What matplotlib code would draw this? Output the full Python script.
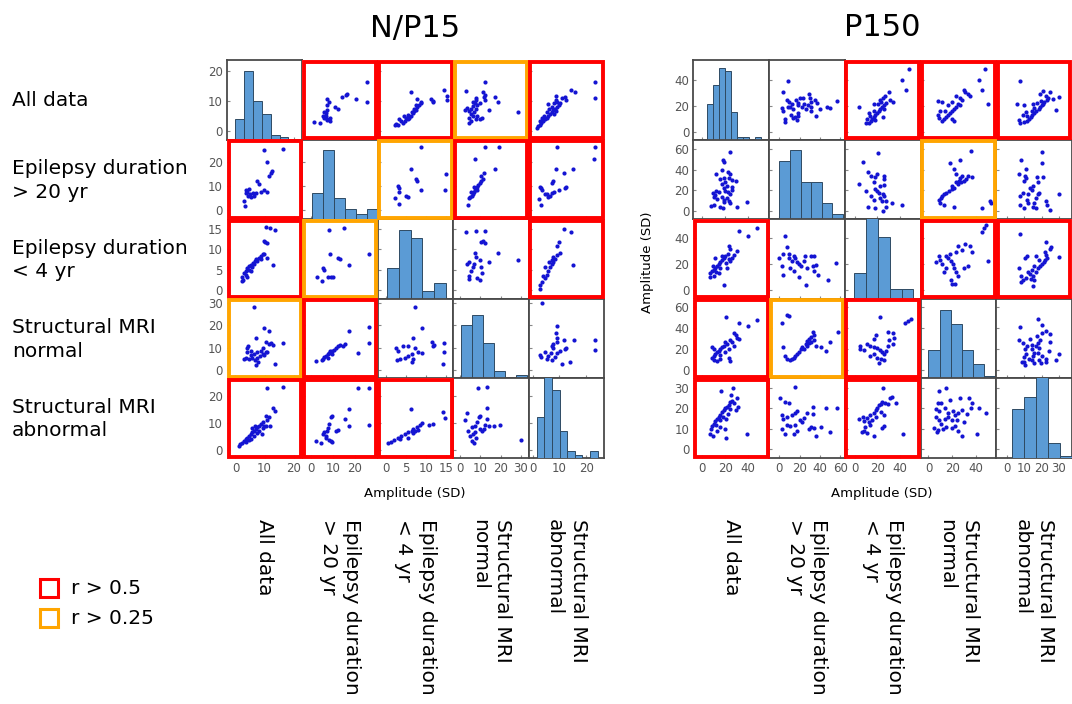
import numpy as np
import matplotlib
matplotlib.use("Agg")
import matplotlib.pyplot as plt
from matplotlib.patches import Rectangle

# ---------------- data ----------------
variables = ["All data", "Epilepsy duration\n> 20 yr", "Epilepsy duration\n< 4 yr",
             "Structural MRI\nnormal", "Structural MRI\nabnormal"]
legend_labels = ["r > 0.5", "r > 0.25"]
titles = ["N/P15", "P150"]

# significance code per panel: 0 none, 1 r>0.25, 2 r>0.5
np15_sig = [[0, 2, 2, 1, 2],
            [2, 0, 1, 2, 2],
            [2, 1, 0, 0, 2],
            [1, 2, 0, 0, 0],
            [2, 2, 2, 0, 0]]
p150_sig = [[0, 0, 2, 2, 2],
            [0, 0, 0, 1, 0],
            [2, 0, 0, 2, 2],
            [2, 1, 2, 0, 0],
            [2, 0, 2, 0, 0]]

np15_ticks = [[0, 10, 20], [0, 10, 20], [0, 5, 10, 15], [0, 10, 20, 30], [0, 10, 20]]
p150_ticks = [[0, 20, 40], [0, 20, 40, 60], [0, 20, 40], [0, 20, 40, 60], [0, 10, 20, 30]]
p150_xticks = [[0, 20, 40], [0, 20, 40, 60], [0, 20, 40], [0, 20, 40], [0, 10, 20, 30]]

# histograms (bin edges, counts)
np15_h0_edges = [0.0, 3.03, 6.07, 9.1, 12.13, 15.17, 18.2]
np15_h0_counts = [9, 30, 17, 11, 2, 1]
np15_h1_edges = [0.5, 5.47, 10.43, 15.4, 20.37, 25.33, 30.3]
np15_h1_counts = [5, 13, 4, 2, 1, 2]
np15_h2_edges = [0.25, 3.2, 6.15, 9.1, 12.05, 15.0]
np15_h2_counts = [4, 9, 8, 1, 2]
np15_h3_edges = [0.75, 6.1, 11.45, 16.8, 22.15, 27.5, 32.8]
np15_h3_counts = [15, 18, 10, 2, 0, 1]
np15_h4_edges = [1.6, 4.44, 7.28, 10.11, 12.95, 15.79, 18.63, 21.46, 24.3]
np15_h4_counts = [12, 24, 20, 8, 2, 1, 0, 2]

p150_h0_edges = [4.0, 9.22, 14.44, 19.67, 24.89, 30.11, 35.33, 40.56, 45.78, 51.0]
p150_h0_counts = [13, 20, 26, 25, 10, 1, 1, 0, 1]
p150_h1_edges = [0.0, 10.42, 20.83, 31.25, 41.67, 52.08, 62.5]
p150_h1_counts = [11, 13, 7, 7, 3, 1]
p150_h2_edges = [-0.6, 10.02, 20.64, 31.26, 41.88, 52.5]
p150_h2_counts = [5, 17, 12, 2, 2]
p150_h3_edges = [0.0, 9.33, 18.67, 28.0, 37.33, 46.67, 56.0]
p150_h3_counts = [10, 24, 19, 10, 5, 1]
p150_h4_edges = [2.6, 9.7, 16.8, 23.9, 31.0, 38.1]
p150_h4_counts = [20, 25, 34, 6, 1]

# scatter pairs (row i, col j), i > j : x = variable j, y = variable i
np15_10_x = [9.9, 16.5, 10.8, 12.5, 12.2, 11.4, 7.5, 8.1, 4.6, 3.5, 4.1, 5.0, 6.0, 7.2, 8.7, 9.9, 10.7, 2.9, 3.3, 5.3, 6.5, 4.4, 3.7]
np15_10_y = [25.2, 25.5, 20.3, 16.5, 15.7, 14.3, 12.1, 10.9, 8.9, 8.5, 7.5, 6.8, 7.0, 7.2, 7.5, 8.4, 7.5, 4.0, 1.6, 5.4, 6.1, 6.1, 7.2]
np15_20_x = [10.5, 11.8, 13.7, 9.9, 10.2, 10.7, 9.3, 9.9, 8.7, 8.1, 7.2, 6.7, 6.0, 5.2, 4.6, 4.1, 3.5, 2.9, 2.3, 2.6, 2.1, 3.5, 4.6, 5.6, 6.4, 7.5, 13.0, 10.7, 8.7, 5.2, 4.1]
np15_20_y = [15.4, 15.25, 14.6, 11.9, 11.7, 11.4, 8.9, 8.75, 8.3, 7.9, 7.5, 7.1, 6.7, 6.25, 5.8, 5.4, 4.75, 4.2, 3.1, 2.5, 2.25, 3.75, 5.0, 5.6, 6.4, 7.1, 6.25, 7.75, 7.5, 4.6, 3.3]
np15_30_x = [6.4, 9.9, 11.6, 7.0, 4.4, 4.1, 10.5, 11.4, 12.2, 13.0, 9.3, 8.7, 7.5, 6.4, 5.2, 3.5, 2.9, 4.6, 5.8, 7.5, 6.7, 7.9, 7.2, 13.6, 10.5, 9.3, 4.1, 5.2, 16.5, 9.9, 8.4, 11.0]
np15_30_y = [28.4, 18.75, 17.5, 14.4, 10.9, 9.7, 12.5, 11.7, 12.2, 11.25, 9.7, 8.6, 7.8, 7.0, 6.6, 5.5, 4.7, 4.7, 5.5, 5.5, 4.4, 3.4, 2.3, 2.8, 8.1, 7.3, 7.8, 8.6, 12.2, 6.6, 6.25, 7.8]
np15_40_x = [11.0, 16.5, 13.0, 13.7, 10.5, 11.4, 11.8, 11.0, 9.3, 8.7, 8.1, 7.5, 7.0, 6.4, 5.8, 5.2, 4.6, 4.1, 3.5, 2.9, 2.3, 1.7, 1.2, 8.1, 9.3, 6.4, 5.2, 7.5, 9.9, 4.6, 3.5, 6.7, 5.8, 9.1, 10.5]
np15_40_y = [23.2, 23.5, 15.7, 14.5, 12.6, 12.3, 8.8, 11.0, 10.3, 9.7, 9.0, 8.4, 7.7, 7.1, 6.5, 5.8, 5.2, 4.5, 3.9, 3.2, 2.6, 1.9, 1.5, 7.1, 8.0, 5.2, 4.1, 6.2, 9.0, 3.6, 2.8, 8.8, 8.0, 5.8, 8.8]
np15_21_x = [8.3, 15.2, 8.6, 12.1, 13.2, 17.1, 26.5, 5.3, 6.1, 2.6, 5.0, 7.6, 9.1, 10.2]
np15_21_y = [14.75, 15.2, 8.9, 7.75, 7.5, 6.25, 8.9, 5.4, 5.0, 3.3, 2.3, 3.3, 3.2, 3.1]
np15_31_x = [26.2, 26.5, 21.5, 17.4, 13.2, 12.1, 11.4, 10.6, 9.8, 9.1, 8.3, 7.6, 6.8, 6.1, 5.3, 2.3, 5.0, 7.6, 9.8, 14.4, 15.6, 8.6]
np15_31_y = [19.1, 12.2, 7.5, 17.5, 11.25, 10.6, 9.7, 9.1, 8.6, 8.1, 7.5, 7.0, 6.25, 5.8, 5.0, 3.9, 4.4, 5.5, 7.0, 10.6, 11.7, 8.6]
np15_41_x = [21.5, 26.5, 17.4, 15.5, 26.2, 17.4, 9.1, 9.8, 8.3, 12.1, 11.4, 7.6, 7.1, 6.1, 5.3, 6.8, 8.3, 9.8, 2.3, 4.5, 6.8, 9.1]
np15_41_y = [23.0, 23.2, 15.2, 11.6, 9.3, 8.8, 12.3, 12.6, 9.7, 7.5, 7.1, 8.0, 7.1, 6.5, 5.8, 5.2, 3.6, 2.8, 3.2, 2.3, 4.5, 3.2]
np15_32_x = [7.3, 9.0, 6.8, 14.5, 11.5, 12.0, 5.6, 4.3, 2.6, 3.0, 7.3, 8.1, 9.0, 6.4, 5.6, 4.7, 3.4, 6.8, 2.8, 6.4, 14.5, 14.3, 11.7]
np15_32_y = [28.4, 18.75, 14.4, 12.2, 12.5, 11.25, 10.6, 10.9, 9.7, 8.6, 9.7, 7.8, 7.5, 7.0, 6.25, 5.5, 4.7, 4.7, 4.4, 3.4, 8.1, 2.8, 10.6]
np15_42_x = [6.2, 14.3, 14.8, 8.5, 9.0, 7.7, 6.8, 6.4, 5.6, 4.7, 3.8, 3.0, 2.1, 1.3, 0.4, 3.4, 5.6, 7.3, 10.7, 11.7, 8.1, 6.8]
np15_42_y = [15.2, 14.2, 11.9, 9.3, 10.1, 8.4, 7.7, 7.1, 6.5, 5.8, 5.2, 4.5, 3.6, 2.8, 2.6, 3.9, 4.5, 7.1, 9.3, 9.7, 7.5, 6.2]
np15_43_x = [8.8, 13.3, 3.3, 13.3, 13.3, 10.0, 9.2, 8.3, 7.5, 5.8, 4.2, 5.0, 5.8, 6.7, 10.8, 11.7, 14.2, 16.7, 19.7, 12.5, 10.0, 7.5, 2.5, 30.0, 6.3, 8.0]
np15_43_y = [23.2, 23.5, 13.9, 15.5, 11.6, 12.6, 12.3, 10.3, 9.0, 8.4, 7.1, 5.2, 3.2, 2.6, 7.1, 7.7, 9.0, 8.8, 9.3, 9.3, 7.7, 6.7, 11.0, 3.6, 5.8, 4.5]

p150_10_x = [24.1, 18.2, 18.8, 17.4, 12.4, 22.4, 24.7, 18.8, 15.9, 23.2, 26.2, 29.1, 20.3, 17.4, 19.4, 21.8, 26.2, 12.4, 14.4, 9.4, 11.5, 22.4, 24.7, 26.2, 10.6, 12.9, 17.4, 18.8, 21.8, 23.2, 19.4, 24.7, 10.0, 7.6, 15.9, 18.2, 30.6, 39.4, 20.3]
p150_10_y = [57.1, 49.5, 47.2, 39.6, 35.6, 37.3, 35.3, 31.4, 30.7, 31.4, 29.7, 28.7, 28.1, 26.4, 22.1, 24.1, 23.1, 18.8, 18.2, 17.5, 15.5, 18.2, 16.5, 19.8, 13.2, 11.6, 13.2, 10.9, 12.2, 9.2, 8.3, 7.6, 5.6, 5.0, 3.3, 2.3, 3.3, 8.3, 18.8]
p150_20_x = [48.2, 40.0, 32.1, 23.2, 24.7, 22.4, 20.3, 18.8, 17.4, 15.9, 14.4, 12.9, 11.5, 10.0, 8.5, 7.1, 10.0, 18.8, 26.2, 27.6, 30.6, 23.2, 21.2, 15.9, 12.4, 7.1, 21.8, 17.4, 11.5, 14.4, 24.7, 9.4]
p150_20_y = [48.3, 42.1, 45.6, 34.1, 31.5, 28.0, 26.1, 24.3, 22.7, 21.6, 20.0, 18.1, 16.8, 15.5, 14.1, 12.8, 10.9, 3.5, 24.8, 26.9, 30.1, 23.5, 20.8, 16.8, 13.6, 10.1, 16.8, 26.1, 24.8, 12.8, 22.1, 18.1]
p150_30_x = [21.2, 32.1, 48.2, 40.0, 27.6, 29.1, 30.6, 24.7, 26.2, 21.8, 18.8, 17.4, 15.9, 14.4, 12.9, 11.5, 10.0, 8.5, 10.6, 15.9, 20.3, 23.2, 27.6, 8.5, 10.0, 23.2, 24.1, 12.9, 15.9, 32.1, 20.3]
p150_30_y = [50.2, 44.6, 47.2, 42.2, 34.7, 33.0, 30.4, 28.1, 26.4, 24.8, 23.1, 21.5, 19.8, 18.2, 16.5, 14.9, 13.2, 11.6, 9.2, 13.9, 16.5, 19.8, 23.1, 21.5, 19.8, 11.6, 8.3, 8.3, 9.9, 29.7, 26.4]
p150_40_x = [16.5, 27.1, 25.3, 30.6, 31.5, 27.6, 26.2, 24.7, 23.2, 21.8, 20.3, 18.8, 17.4, 15.9, 14.4, 12.9, 11.5, 10.0, 8.5, 7.6, 7.1, 9.4, 12.9, 20.3, 21.2, 21.2, 22.4, 24.1, 18.2, 15.9, 12.4, 39.4, 29.1, 15.3]
p150_40_y = [28.3, 30.0, 26.7, 25.0, 20.8, 22.5, 23.7, 23.0, 21.7, 20.8, 20.0, 19.2, 18.3, 17.0, 15.8, 14.7, 13.7, 12.5, 11.3, 10.0, 7.5, 6.7, 9.2, 10.0, 5.8, 15.0, 17.5, 19.7, 15.8, 14.2, 11.7, 7.5, 19.2, 10.8]
p150_21_x = [5.7, 7.4, 4.0, 0.0, 2.4, 4.0, 9.1, 12.5, 14.1, 15.8, 17.5, 19.2, 20.9, 24.2, 27.6, 31.0, 34.3, 32.7, 34.3, 36.0, 37.7, 19.2, 25.9, 47.8, 56.2, 10.8, 14.8, 9.1, 24.9]
p150_21_y = [42.1, 33.3, 27.5, 24.8, 18.1, 11.5, 24.3, 22.1, 26.1, 24.8, 21.6, 20.0, 18.1, 22.1, 16.8, 26.1, 26.1, 18.1, 14.1, 19.5, 11.5, 10.1, 3.5, 7.5, 20.8, 16.8, 14.1, 27.5, 26.1]
p150_31_x = [7.4, 9.1, 2.4, 4.0, 5.7, 7.4, 10.8, 12.5, 14.1, 15.8, 17.5, 19.2, 20.9, 22.6, 25.9, 27.6, 29.3, 31.0, 32.7, 31.6, 34.3, 36.0, 41.1, 46.1, 49.5, 57.9, 34.3, 27.6, 24.2, 29.3]
p150_31_y = [52.1, 51.2, 44.6, 21.5, 13.2, 9.9, 9.2, 10.6, 11.6, 13.2, 14.9, 17.2, 19.8, 21.5, 24.8, 27.1, 29.7, 31.4, 36.3, 26.4, 28.1, 23.1, 21.5, 18.2, 26.4, 35.6, 33.0, 23.1, 19.8, 25.7]
p150_41_x = [15.8, 0.7, 5.7, 9.1, 2.4, 4.0, 7.4, 2.4, 5.7, 14.1, 17.5, 12.5, 15.8, 17.5, 20.2, 22.6, 24.2, 27.6, 32.7, 32.7, 31.6, 29.3, 34.3, 36.0, 41.1, 46.1, 49.5, 57.2, 10.8, 15.8, 7.4]
p150_41_y = [30.3, 25.0, 23.0, 22.5, 17.0, 15.0, 12.0, 10.0, 7.5, 7.5, 9.2, 16.7, 18.0, 18.7, 14.2, 13.3, 15.3, 18.0, 20.8, 17.5, 10.8, 10.0, 10.3, 6.7, 10.8, 20.0, 8.3, 20.3, 11.3, 12.0, 15.8]
p150_32_x = [22.5, 44.6, 47.7, 50.2, 29.2, 33.8, 35.4, 30.8, 18.5, 16.9, 10.8, 13.8, 16.9, 20.0, 22.5, 24.6, 26.2, 27.7, 16.9, 13.8, 20.0, 23.1, 26.2, 21.5, 4.6, 7.7, 4.6, 29.2, 33.8]
p150_32_y = [50.2, 44.6, 46.9, 48.5, 36.3, 34.7, 30.4, 28.1, 33.0, 29.7, 24.8, 23.1, 21.5, 20.5, 19.1, 16.5, 14.9, 18.2, 14.9, 13.2, 11.6, 9.9, 9.2, 6.6, 19.8, 19.1, 22.4, 23.1, 24.8]
p150_42_x = [25.5, 31.7, 32.9, 3.1, 7.1, 8.3, 10.8, 13.8, 16.9, 18.5, 20.0, 21.5, 23.1, 24.6, 26.8, 29.2, 23.1, 26.2, 18.5, 15.4, 12.3, 13.8, 9.2, 7.7, 10.8, 16.9, 24.6, 26.2, 43.1, 36.9, 6.2]
p150_42_y = [30.0, 25.0, 25.8, 15.0, 15.8, 13.7, 15.3, 16.7, 18.0, 19.2, 20.3, 21.7, 22.0, 23.0, 22.5, 22.0, 18.3, 17.0, 15.8, 14.2, 13.3, 12.0, 10.8, 9.2, 8.0, 6.7, 10.3, 11.3, 7.5, 22.5, 8.3]
p150_43_x = [9.2, 15.0, 17.9, 26.5, 33.7, 36.6, 42.4, 48.1, 7.8, 10.7, 6.3, 9.2, 13.5, 16.4, 20.7, 22.2, 25.1, 28.0, 32.3, 35.2, 6.3, 9.2, 13.5, 16.4, 19.3, 23.6, 29.4, 4.9, 7.8, 12.1, 15.0, 19.3, 22.2, 25.1, 28.0, 40.9, 7.2, 10.7]
p150_43_y = [28.7, 30.0, 24.2, 25.0, 25.0, 22.5, 20.3, 18.0, 22.5, 22.8, 19.7, 18.7, 20.0, 18.0, 18.7, 17.0, 18.0, 19.2, 17.5, 20.0, 15.8, 14.2, 15.0, 15.8, 14.2, 14.2, 13.3, 10.3, 9.7, 10.0, 10.8, 10.3, 11.3, 9.2, 6.7, 7.5, 8.7, 12.5]

# ---------------- assemble ----------------
np15_pairs = {(1, 0): (np15_10_x, np15_10_y), (2, 0): (np15_20_x, np15_20_y),
              (3, 0): (np15_30_x, np15_30_y), (4, 0): (np15_40_x, np15_40_y),
              (2, 1): (np15_21_x, np15_21_y), (3, 1): (np15_31_x, np15_31_y),
              (4, 1): (np15_41_x, np15_41_y), (3, 2): (np15_32_x, np15_32_y),
              (4, 2): (np15_42_x, np15_42_y), (4, 3): (np15_43_x, np15_43_y)}
p150_pairs = {(1, 0): (p150_10_x, p150_10_y), (2, 0): (p150_20_x, p150_20_y),
              (3, 0): (p150_30_x, p150_30_y), (4, 0): (p150_40_x, p150_40_y),
              (2, 1): (p150_21_x, p150_21_y), (3, 1): (p150_31_x, p150_31_y),
              (4, 1): (p150_41_x, p150_41_y), (3, 2): (p150_32_x, p150_32_y),
              (4, 2): (p150_42_x, p150_42_y), (4, 3): (p150_43_x, p150_43_y)}
np15_hists = [(np15_h0_edges, np15_h0_counts), (np15_h1_edges, np15_h1_counts),
              (np15_h2_edges, np15_h2_counts), (np15_h3_edges, np15_h3_counts),
              (np15_h4_edges, np15_h4_counts)]
p150_hists = [(p150_h0_edges, p150_h0_counts), (p150_h1_edges, p150_h1_counts),
              (p150_h2_edges, p150_h2_counts), (p150_h3_edges, p150_h3_counts),
              (p150_h4_edges, p150_h4_counts)]

# ---------------- layout ----------------
W, H = 1072, 704
fig = plt.figure(figsize=(W / 100, H / 100), dpi=100)
fig.patch.set_facecolor("white")

panels = [
    dict(x0=227, cw=75.4, pairs=np15_pairs, hists=np15_hists, sig=np15_sig,
         yticks=np15_ticks, xticks=np15_ticks,
         ylims=[(-2.7, 23.75), (-3.8, 29.5), (-2.1, 17.3), (-3.9, 32.0), (-3.2, 26.8)],
         xlims=[(-2.9, 23.0), (-3.8, 30.3), (-2.1, 16.9), (-3.3, 33.8), (-1.5, 26.7)],
         htop=[34.8, 15.0, 10.4, 22.5, 23.3], title=titles[0], cx=415),
    dict(x0=693.5, cw=75.7, pairs=p150_pairs, hists=p150_hists, sig=p150_sig,
         yticks=p150_ticks, xticks=p150_xticks,
         ylims=[(-6.0, 55.3), (-8.3, 69.3), (-7.2, 54.9), (-8.3, 67.7), (-4.2, 34.7)],
         xlims=[(-7.6, 58.5), (-10.1, 64.6), (-9.2, 59.0), (-6.6, 56.8), (-6.4, 37.8)],
         htop=[29.0, 15.0, 15.5, 28.0, 32.6], title=titles[1], cx=882),
]
y0, rh = 60, 79.6
sig_colors = {1: "#ffa500", 2: "#ff0000"}
frames = []

for P in panels:
    for r in range(5):
        for c in range(5):
            x = P["x0"] + c * P["cw"]
            y = y0 + r * rh
            ax = fig.add_axes([x / W, 1 - (y + rh) / H, P["cw"] / W, rh / H])
            ax.set_xlim(*P["xlims"][c])
            ax.set_ylim(*P["ylims"][r])
            ax.set_xticks(P["xticks"][c])
            ax.set_yticks(P["yticks"][r])
            ax.tick_params(direction="in", length=2.5, width=0.8, color="#888888",
                           labelsize=8.5, labelcolor="#555555", pad=3)
            if c != 0:
                ax.tick_params(labelleft=False)
            if r != 4:
                ax.tick_params(labelbottom=False)
            for s in ax.spines.values():
                s.set_color("#4a4a4a")
                s.set_linewidth(1.3)
            if r == c:
                edges, counts = P["hists"][r]
                ax2 = ax.twinx()
                ax2.bar(edges[:-1], counts, width=np.diff(edges), align="edge",
                        color="#5b9bd5", edgecolor="#2f4a63", linewidth=0.7)
                ax2.set_ylim(0, P["htop"][r])
                ax2.set_yticks([])
                for s in ax2.spines.values():
                    s.set_visible(False)
            else:
                if r > c:
                    px, py = P["pairs"][(r, c)]
                else:
                    py, px = P["pairs"][(c, r)]
                ax.scatter(px, py, s=9, color="#1414d2", linewidths=0, zorder=3)
            code = P["sig"][r][c]
            if code:
                for s in ax.spines.values():
                    s.set_visible(False)
                frames.append(([(x + 1.5) / W, 1 - (y + rh - 1.5) / H,
                                (P["cw"] - 3) / W, (rh - 3) / H], sig_colors[code]))
    fig.text(P["cx"] / W, 1 - 28 / H, P["title"], ha="center", va="center", fontsize=22)
    fig.text(P["cx"] / W, 1 - 493 / H, "Amplitude (SD)", ha="center", va="center", fontsize=9.5)
    for c in range(5):
        xc = P["x0"] + (c + 0.5) * P["cw"]
        fig.text(xc / W, 1 - 519 / H, variables[c], rotation=-90, ha="center", va="top",
                 multialignment="left", fontsize=14.5, linespacing=1.3)

# significance frames drawn on top of all panels
for (bx, by, bw, bh), col in frames:
    fig.add_artist(Rectangle((bx, by), bw, bh, transform=fig.transFigure, fill=False,
                             edgecolor=col, linewidth=2.8, zorder=10))

fig.text(647 / W, 1 - 262 / H, "Amplitude (SD)", rotation=90, ha="center", va="center", fontsize=9.5)

for r in range(5):
    fig.text(12 / W, 1 - (y0 + (r + 0.5) * rh + 1) / H, variables[r], ha="left", va="center",
             fontsize=14.5, linespacing=1.3)

# legend
for k, (lab, col) in enumerate(zip(legend_labels, ["#ff0000", "#ffa500"])):
    yc = 588 + k * 30
    fig.add_artist(Rectangle((40 / W, 1 - (yc + 9) / H), 18 / W, 18 / H, transform=fig.transFigure,
                             fill=False, edgecolor=col, linewidth=2.2))
    fig.text(71 / W, 1 - yc / H, lab, ha="left", va="center", fontsize=14.5)

fig.savefig("out.png", dpi=100, facecolor="white")
